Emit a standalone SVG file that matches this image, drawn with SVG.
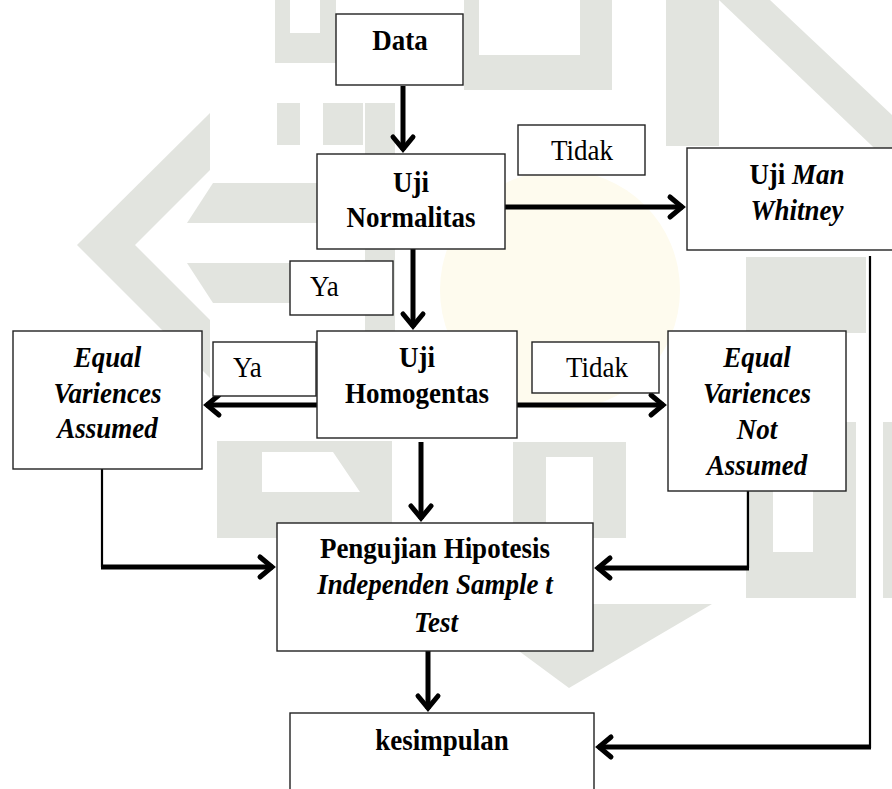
<svg xmlns="http://www.w3.org/2000/svg" width="892" height="789" viewBox="0 0 892 789">
<style>
.box{fill:#fff;stroke:#222;stroke-width:1.4}
.wm{fill:#e2e4df;stroke:none}
.t{font-family:"Liberation Serif","Times New Roman",serif;font-size:27px;fill:#000}
.b{font-weight:bold}
.i{font-style:italic}
.c{text-anchor:middle}
.arr{fill:none;stroke:#000;stroke-width:5;marker-end:url(#ah)}
.thin{fill:none;stroke:#000;stroke-width:2.2}
</style>
<defs>
<marker id="ah" markerUnits="userSpaceOnUse" markerWidth="30" markerHeight="30" refX="0" refY="0" orient="auto" overflow="visible">
<path d="M-13,-10 L-1,0 L-13,10" fill="none" stroke="#000" stroke-width="5" stroke-linecap="round"/>
</marker>
</defs>
<rect width="892" height="789" fill="#fff"/>
<g id="watermark">
<ellipse cx="560" cy="290" rx="120" ry="120" fill="#fefbee"/>
<polygon class="wm" points="210,113 210,170 135,245 77,245"/>
<polygon class="wm" points="77,245 135,245 210,320 210,378"/>
<polygon class="wm" points="213,183 365,183 365,223 187,223"/>
<polygon class="wm" points="187,263 365,263 365,303 213,303"/>
<rect class="wm" x="365" y="103" width="30" height="230"/>
<path class="wm" d="M275,0 H290 V33 H320 V0 H336 V63 H275 Z"/>
<rect class="wm" x="277" y="103" width="23" height="42"/>
<rect class="wm" x="323" y="103" width="40" height="42"/>
<path class="wm" fill-rule="evenodd" d="M217,441 H392 V538 H217 Z M262,452 H333 L360,492 H262 Z"/>
<path class="wm" d="M513,442 H626 V538 H593 V457 H546 V538 H513 Z"/>
<polygon class="wm" points="455,604 712,604 569,688"/>
<path class="wm" d="M746,422 H773 V552 H813 V422 H856 V598 H746 Z"/>
<rect class="wm" x="883" y="422" width="9" height="176"/>
<path class="wm" d="M464,0 H479 V55 H580 V0 H612 V90 H464 Z"/>
<rect class="wm" x="666" y="0" width="53" height="146"/>
<polygon class="wm" points="719,0 770,0 892,115 892,165"/>
<rect class="wm" x="746" y="257" width="120" height="76"/>
</g>
<g id="connectors">
<path class="arr" d="M403,86 V150"/>
<path class="arr" d="M505,207 H683"/>
<path class="arr" d="M413,249 V327"/>
<path class="arr" d="M317,405 H206"/>
<path class="arr" d="M517,405 H664"/>
<path class="arr" d="M421,442 V519"/>
<path class="thin" d="M102,469 V567"/>
<path class="arr" d="M101,567 H273"/>
<path class="thin" d="M748,491 V568"/>
<path class="arr" d="M749,568 H597"/>
<path class="arr" d="M428,651 V709"/>
<path class="thin" d="M870,256 V748"/>
<path class="arr" d="M871,747 H598"/>
</g>
<g id="data">
<rect class="box" x="336" y="14" width="127" height="71"/>
<text class="t b c" transform="translate(400 50) scale(1 1.1)">Data</text>
</g>
<g id="normalitas">
<rect class="box" x="317" y="154" width="188" height="95"/>
<text class="t b c" transform="translate(411 192) scale(1 1.1)">Uji</text>
<text class="t b c" transform="translate(411 227) scale(1 1.1)">Normalitas</text>
</g>
<g id="tidak1">
<rect class="box" x="518" y="125" width="127" height="50"/>
<text class="t c" transform="translate(582 160) scale(1 1.1)">Tidak</text>
</g>
<g id="manwhitney">
<rect class="box" x="687" y="148" width="220" height="102"/>
<text class="t b c" transform="translate(797 184) scale(1 1.1)">Uji <tspan class="i">Man</tspan></text>
<text class="t b i c" transform="translate(797 220) scale(1 1.1)">Whitney</text>
</g>
<g id="ya1">
<rect class="box" x="290" y="261" width="103" height="54"/>
<text class="t" transform="translate(310 296) scale(1 1.1)">Ya</text>
</g>
<g id="homogentas">
<rect class="box" x="317" y="331" width="200" height="107"/>
<text class="t b c" transform="translate(417 367) scale(1 1.1)">Uji</text>
<text class="t b c" transform="translate(417 403) scale(1 1.1)">Homogentas</text>
</g>
<g id="equal-assumed">
<rect class="box" x="13" y="331" width="189" height="138"/>
<text class="t b i c" transform="translate(107.5 367) scale(1 1.1)">Equal</text>
<text class="t b i c" transform="translate(107.5 403) scale(1 1.1)">Variences</text>
<text class="t b i c" transform="translate(107.5 438) scale(1 1.1)">Assumed</text>
</g>
<g id="ya2">
<rect class="box" x="213" y="342" width="103" height="54"/>
<text class="t" transform="translate(233 377) scale(1 1.1)">Ya</text>
</g>
<g id="tidak2">
<rect class="box" x="532" y="342" width="127" height="51"/>
<text class="t c" transform="translate(597 377) scale(1 1.1)">Tidak</text>
</g>
<g id="equal-not-assumed">
<rect class="box" x="668" y="331" width="178" height="160"/>
<text class="t b i c" transform="translate(757 367) scale(1 1.1)">Equal</text>
<text class="t b i c" transform="translate(757 403) scale(1 1.1)">Variences</text>
<text class="t b i c" transform="translate(757 439) scale(1 1.1)">Not</text>
<text class="t b i c" transform="translate(757 475) scale(1 1.1)">Assumed</text>
</g>
<g id="pengujian">
<rect class="box" x="277" y="523" width="316" height="128"/>
<text class="t b c" transform="translate(435 558) scale(1 1.1)">Pengujian Hipotesis</text>
<text class="t b i c" transform="translate(435 594) scale(1 1.1)">Independen Sample t</text>
<text class="t b i c" transform="translate(436 632) scale(1 1.1)">Test</text>
</g>
<g id="kesimpulan">
<rect class="box" x="290" y="713" width="304" height="90"/>
<text class="t b c" transform="translate(442 750) scale(1 1.1)">kesimpulan</text>
</g>
</svg>
